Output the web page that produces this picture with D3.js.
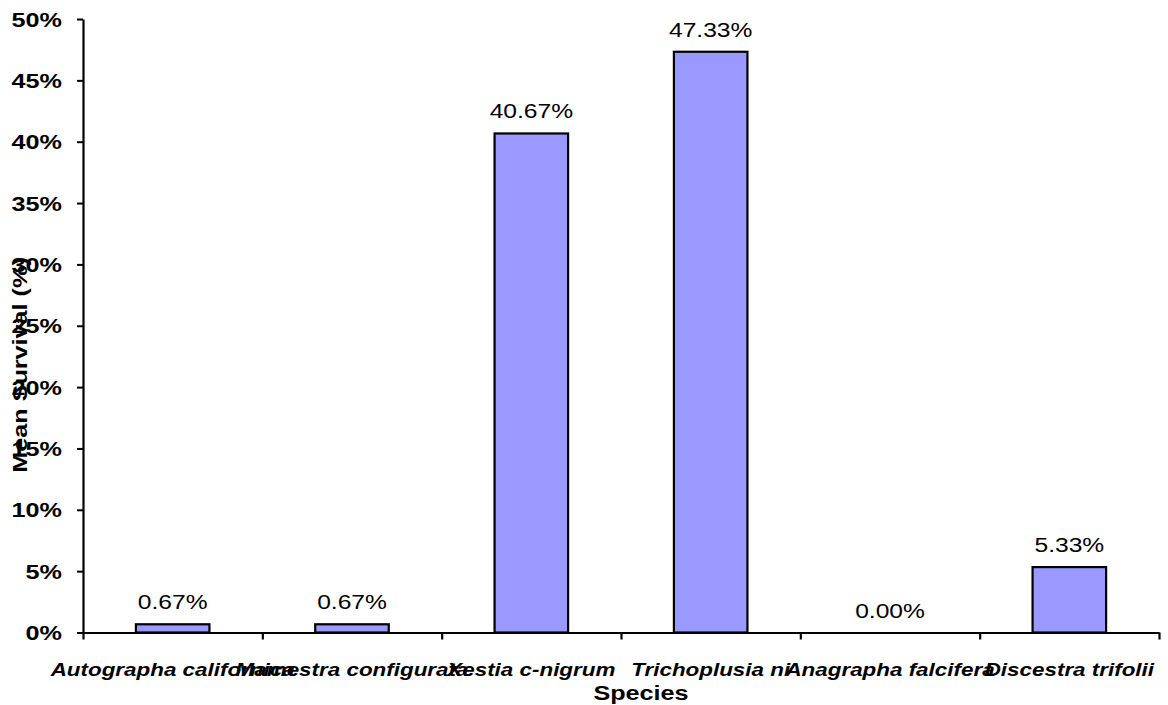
<!DOCTYPE html>
<html>
<head>
<meta charset="utf-8">
<script src="https://cdn.jsdelivr.net/npm/d3@7"></script>
<style>
  html, body { margin: 0; padding: 0; background: #fff; }
  svg { display: block; font-family: "Liberation Sans", Arial, sans-serif; }
</style>
</head>
<body>
<svg id="chart" width="1168" height="705"></svg>
<script>
const categories = ["Autographa californica", "Mamestra configurata", "Xestia c-nigrum", "Trichoplusia ni", "Anagrapha falcifera", "Discestra trifolii"];
const survival = [0.67, 0.67, 40.67, 47.33, 0.00, 5.33];
const yTicks = [0, 5, 10, 15, 20, 25, 30, 35, 40, 45, 50];
const xTitle = "Species";
const yTitle = "Mean Survival (%)";

(function () {
const svg = d3.select("#chart");
const mLeft = 83, mRight = 1159, mTop = 19, mBottom = 632.5;
const sx = 1.2; // horizontal glyph stretch of the original rendering

const x = d3.scaleBand().domain(categories).range([mLeft, mRight]).paddingInner(0.59).paddingOuter(0.295);
const xb = d3.scaleLinear().domain([0, categories.length]).range([mLeft, mRight]);
const y = d3.scaleLinear().domain([0, 50]).range([mBottom, mTop]);

// bars
svg.append("g").selectAll("rect").data(survival).join("rect")
  .attr("x", (d, i) => x(categories[i]))
  .attr("y", d => y(d))
  .attr("width", x.bandwidth())
  .attr("height", d => y(0) - y(d))
  .attr("fill", "#9999ff")
  .attr("stroke", "#000")
  .attr("stroke-width", 2.2);

// y axis
const ya = svg.append("g").attr("transform", `translate(${mLeft},0)`)
  .call(d3.axisLeft(y).tickValues(yTicks).tickSize(6).tickSizeOuter(0).tickFormat(d => d + "%"));
ya.select(".domain").attr("stroke", "#000").attr("stroke-width", 2.2);
ya.selectAll(".tick line").attr("stroke", "#000").attr("stroke-width", 2);
ya.selectAll(".tick text")
  .attr("x", null).attr("dy", "0.34em")
  .attr("transform", `translate(-21,0) scale(${sx},1)`)
  .attr("text-anchor", "end")
  .attr("font-family", "'Liberation Sans', Arial, sans-serif")
  .attr("font-size", 21).attr("font-weight", "bold").attr("fill", "#000");

// x axis (ticks between categories)
const xa = svg.append("g").attr("transform", `translate(0,${mBottom})`)
  .call(d3.axisBottom(xb).tickValues(d3.range(categories.length + 1)).tickSize(7).tickSizeOuter(0).tickFormat(""));
xa.select(".domain").attr("stroke", "#000").attr("stroke-width", 2.2);
xa.selectAll(".tick line").attr("stroke", "#000").attr("stroke-width", 2.2);

// category labels
svg.append("g").selectAll("text").data(categories).join("text")
  .attr("transform", d => `translate(${x(d) + x.bandwidth() / 2},676) scale(1.18,1)`)
  .attr("text-anchor", "middle")
  .attr("font-size", 19).attr("font-weight", "bold").attr("font-style", "italic")
  .attr("fill", "#000")
  .text(d => d);

// value labels
svg.append("g").selectAll("text").data(survival).join("text")
  .attr("transform", (d, i) => `translate(${x(categories[i]) + x.bandwidth() / 2},${y(d) - 15}) scale(${sx},1)`)
  .attr("text-anchor", "middle")
  .attr("font-size", 20.5)
  .attr("fill", "#000")
  .text(d => d.toFixed(2) + "%");

// axis titles
svg.append("text")
  .attr("transform", `translate(641,700) scale(${sx},1)`)
  .attr("text-anchor", "middle")
  .attr("font-size", 21).attr("font-weight", "bold").attr("fill", "#000")
  .text(xTitle);

svg.append("text")
  .attr("transform", `translate(27,365) rotate(-90) scale(${sx},1)`)
  .attr("text-anchor", "middle")
  .attr("font-size", 21).attr("font-weight", "bold").attr("fill", "#000")
  .text(yTitle);
})();
</script>
</body>
</html>
